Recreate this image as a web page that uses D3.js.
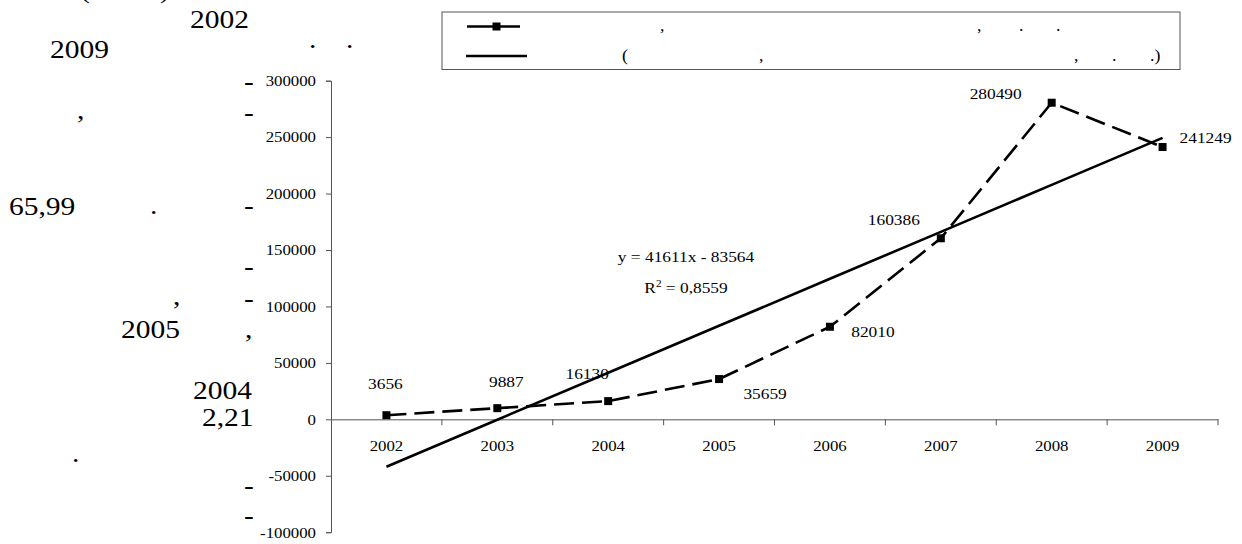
<!DOCTYPE html>
<html>
<head>
<meta charset="utf-8">
<script src="https://cdn.jsdelivr.net/npm/d3@7"></script>
<style>
  body { margin: 0; background: #fff; }
  svg { display: block; }
</style>
</head>
<body>
<div id="chart"></div>
<script>
// chart data
let years = ["2002", "2003", "2004", "2005", "2006", "2007", "2008", "2009"];
let values = [3656, 9887, 16130, 35659, 82010, 160386, 280490, 241249];
let yTicks = [-100000, -50000, 0, 50000, 100000, 150000, 200000, 250000, 300000];
// linear trend from the chart: y = 41611x - 83564
let trendSlope = 41611;
let trendIntercept = -83564;
let trendLabel = "y = 41611x - 83564";
let r2Label = "= 0,8559";

// where each data label sits relative to its point
let labelOffsets = [
  [-1, -26], [9, -21], [-21, -22], [46, 20],
  [43, 10], [-47, -13], [-56, -4], [43, -4],
];

// fragments of the surrounding page text that show up in the picture
let pageFragments = [
  { t: "(", x: 80, y: -2 }, { t: ")", x: 160, y: -2 },
  { t: "2002", x: 190, y: 28 }, { t: "2009", x: 50, y: 58 },
  { t: ".", x: 309, y: 48 }, { t: ".", x: 346, y: 48 },
  { t: ",", x: 77, y: 119 }, { t: "65,99", x: 9, y: 215 },
  { t: ".", x: 150, y: 214 }, { t: ",", x: 173, y: 305 },
  { t: "2005", x: 121, y: 338 }, { t: ",", x: 245, y: 338 },
  { t: "2004", x: 193, y: 399 }, { t: "2,21", x: 202, y: 426 },
  { t: ".", x: 72, y: 462 },
];
let dashMarks = [83, 114, 207, 268, 300, 487, 517];

let width = 1242, height = 544;
let margin = { left: 331, right: 24, top: 80.7, bottom: 11.8 };
let sx = 1.12;
let serif = "'Liberation Serif', 'Times New Roman', Times, serif";

let svg = d3.select("#chart").append("svg")
  .attr("width", width)
  .attr("height", height)
  .attr("font-family", serif);

// scales
let x = d3.scaleBand()
  .domain(years)
  .range([margin.left, width - margin.right])
  .padding(0);
let y = d3.scaleLinear()
  .domain([-100000, 300000])
  .range([height - margin.bottom, margin.top]);

function stretchText(sel, s) {
  sel.each(function () {
    let t = d3.select(this);
    let tx = +t.attr("x") || 0;
    t.attr("x", 0).attr("transform", "translate(" + tx + ",0) scale(" + s + ",1)");
  });
}

function addText(g, str, px, py, size, anchor, s) {
  return g.append("text")
    .attr("transform", "translate(" + px + "," + py + ") scale(" + s + ",1)")
    .attr("text-anchor", anchor || "start")
    .attr("font-family", serif)
    .attr("font-size", size)
    .attr("fill", "#000")
    .text(str);
}

// page text fragments
let page = svg.append("g");
pageFragments.forEach(function (f) {
  addText(page, f.t, f.x, f.y, 25, "start", 1.18);
});
dashMarks.forEach(function (d) {
  addText(page, "-", 244, d + 6.5, 25, "start", 1.18);
});

// y axis (plain hyphen for negatives, like the original)
let yAxis = svg.append("g")
  .attr("transform", "translate(" + margin.left + ",0)")
  .call(d3.axisLeft(y).tickValues(yTicks).tickSize(5).tickPadding(10).tickFormat((d) => String(d)))
  .attr("font-family", serif)
  .attr("font-size", 15);
yAxis.select(".domain").attr("stroke", "#555");
yAxis.selectAll(".tick line").attr("stroke", "#555");
stretchText(yAxis.selectAll("text"), sx);

// x axis at zero
let xAxis = svg.append("g")
  .attr("transform", "translate(0," + y(0) + ")")
  .call(d3.axisBottom(x).tickSize(0).tickPadding(21))
  .attr("font-family", serif)
  .attr("font-size", 15);
xAxis.select(".domain").attr("stroke", "#555");
stretchText(xAxis.selectAll("text"), sx);
xAxis.selectAll(".boundary")
  .data(years)
  .enter()
  .append("line")
  .attr("class", "boundary")
  .attr("x1", (d) => x(d) + x.bandwidth())
  .attr("x2", (d) => x(d) + x.bandwidth())
  .attr("y1", 0)
  .attr("y2", 6)
  .attr("stroke", "#555");

let cx = (d) => x(d) + x.bandwidth() / 2;

// trend line
let trend = years.map(function (d, i) {
  return { year: d, v: trendSlope * (i + 1) + trendIntercept };
});
svg.append("path")
  .datum(trend)
  .attr("fill", "none")
  .attr("stroke", "#000")
  .attr("stroke-width", 2.6)
  .attr("d", d3.line().x((d) => cx(d.year)).y((d) => y(d.v)));

// data line
let rows = years.map((d, i) => ({ year: d, v: values[i] }));
svg.append("path")
  .datum(rows)
  .attr("fill", "none")
  .attr("stroke", "#000")
  .attr("stroke-width", 2.6)
  .attr("stroke-dasharray", "20,8")
  .attr("d", d3.line().x((d) => cx(d.year)).y((d) => y(d.v)));

svg.selectAll(".marker")
  .data(rows)
  .enter()
  .append("rect")
  .attr("class", "marker")
  .attr("x", (d) => cx(d.year) - 4)
  .attr("y", (d) => y(d.v) - 4)
  .attr("width", 8)
  .attr("height", 8)
  .attr("fill", "#000");

// data labels
let labels = svg.append("g");
rows.forEach(function (d, i) {
  addText(labels, String(d.v), cx(d.year) + labelOffsets[i][0], y(d.v) + labelOffsets[i][1], 15.5, "middle", sx);
});

// trend equation
addText(svg, trendLabel, 686, 262, 15.5, "middle", sx);
let r2 = svg.append("text")
  .attr("transform", "translate(686,293) scale(" + sx + ",1)")
  .attr("text-anchor", "middle")
  .attr("font-family", serif)
  .attr("font-size", 15.5);
r2.append("tspan").text("R");
r2.append("tspan").attr("dy", -6).attr("font-size", 10).text("2");
r2.append("tspan").attr("dy", 6).text(" " + r2Label);

// legend
let legend = svg.append("g");
legend.append("rect")
  .attr("x", 442).attr("y", 12)
  .attr("width", 738).attr("height", 57.5)
  .attr("fill", "none")
  .attr("stroke", "#555")
  .attr("stroke-width", 1);
legend.append("line")
  .attr("x1", 467).attr("x2", 520).attr("y1", 26.5).attr("y2", 26.5)
  .attr("stroke", "#000").attr("stroke-width", 2.6);
legend.append("rect")
  .attr("x", 492.5).attr("y", 22.5).attr("width", 8).attr("height", 8)
  .attr("fill", "#000");
legend.append("line")
  .attr("x1", 466).attr("x2", 527).attr("y1", 56).attr("y2", 56)
  .attr("stroke", "#000").attr("stroke-width", 2.6);

let legendMarks1 = [[660, ","], [977, ","], [1019, "."], [1056, "."]];
let legendMarks2 = [[622, "("], [759, ","], [1074, ","], [1112, "."], [1150, ".)"]];
legendMarks1.forEach((m) => addText(legend, m[1], m[0], 31, 16, "start", sx));
legendMarks2.forEach((m) => addText(legend, m[1], m[0], 61, 16, "start", sx));
</script>
</body>
</html>
